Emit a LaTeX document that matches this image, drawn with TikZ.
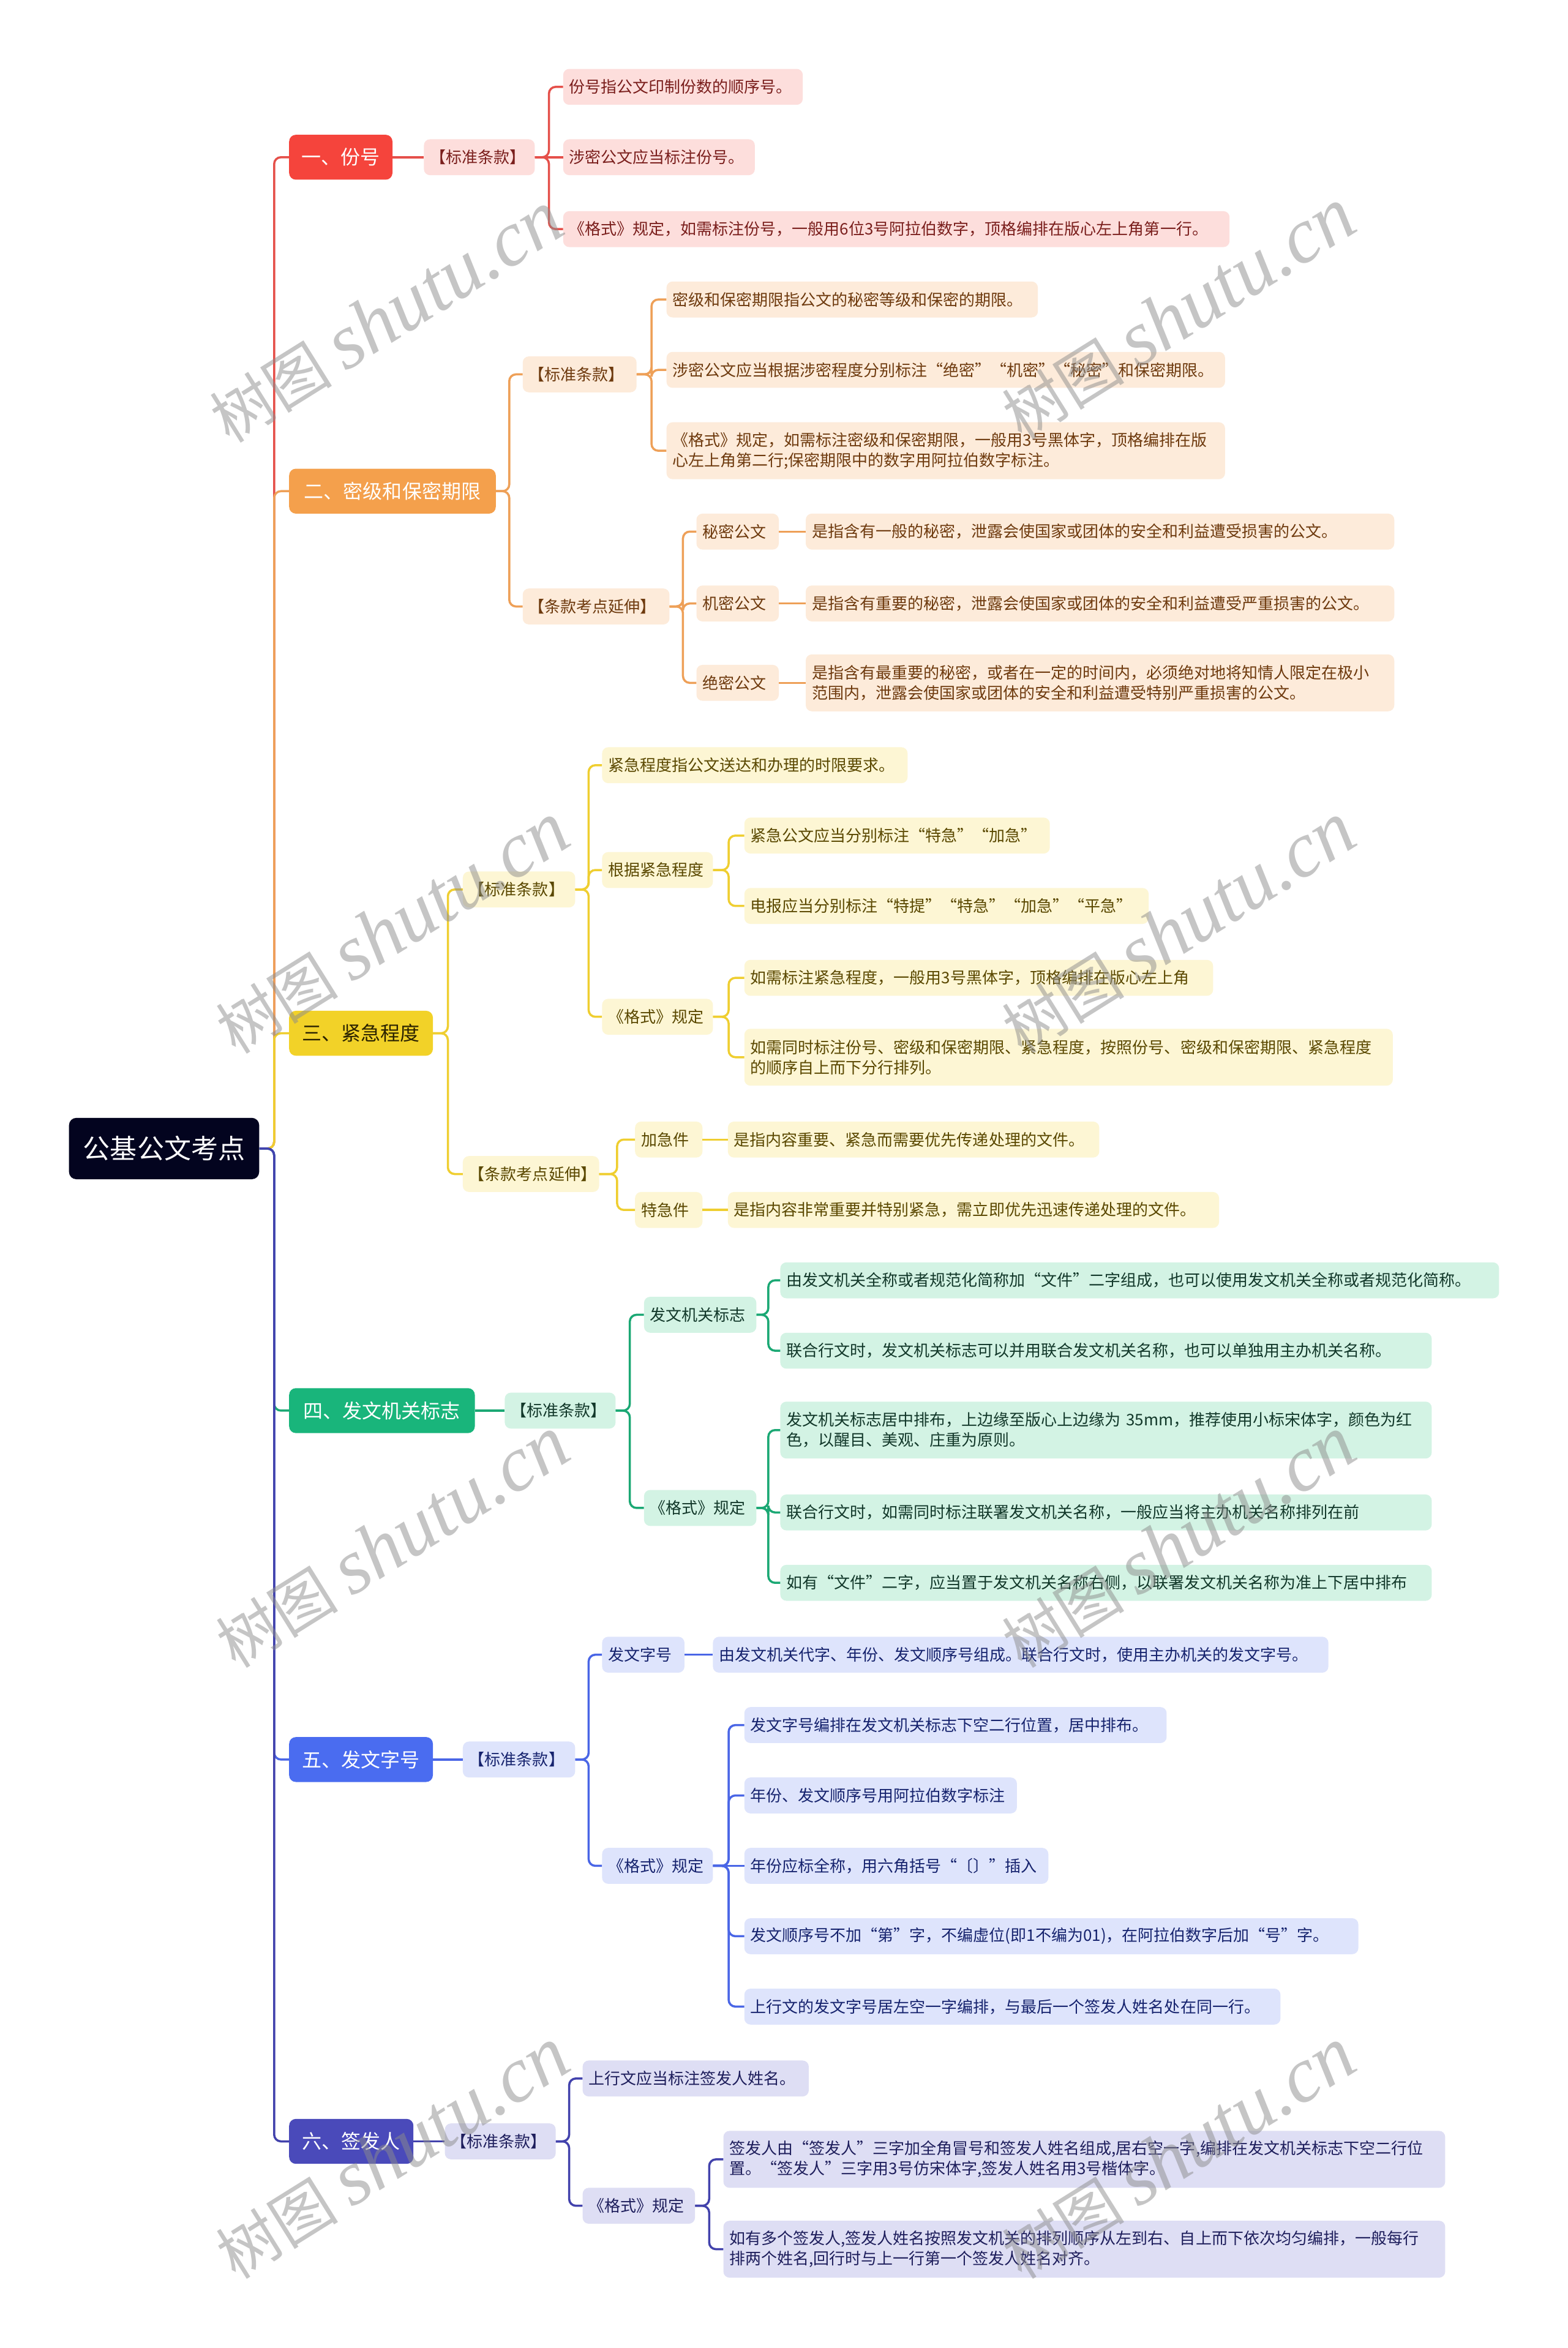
\documentclass[tikz,border=0pt]{standalone}
\usepackage{fontspec}
\setmainfont{Noto Sans CJK SC}
\newfontfamily\wmlatin{Liberation Serif}
\usetikzlibrary{calc}
\definecolor{rootc}{HTML}{03041F}
\definecolor{AM}{HTML}{F5443C}\definecolor{AL}{HTML}{FDDEDC}\definecolor{AT}{HTML}{7A1E1C}\definecolor{AK}{HTML}{E5504A}\definecolor{AW}{HTML}{FFFFFF}
\definecolor{BM}{HTML}{F4A04C}\definecolor{BL}{HTML}{FDEBDA}\definecolor{BT}{HTML}{6E3A0E}\definecolor{BK}{HTML}{EEA058}\definecolor{BW}{HTML}{FFFFFF}
\definecolor{CM}{HTML}{F2D228}\definecolor{CL}{HTML}{FDF6D4}\definecolor{CT}{HTML}{5A4800}\definecolor{CK}{HTML}{EFCE30}\definecolor{CW}{HTML}{2A2200}
\definecolor{DM}{HTML}{19B57B}\definecolor{DL}{HTML}{D3F3E4}\definecolor{DT}{HTML}{12382A}\definecolor{DK}{HTML}{1BA874}\definecolor{DW}{HTML}{FFFFFF}
\definecolor{EM}{HTML}{4A6CF0}\definecolor{EL}{HTML}{DEE4FC}\definecolor{ET}{HTML}{16236E}\definecolor{EK}{HTML}{4A66E6}\definecolor{EW}{HTML}{FFFFFF}
\definecolor{FM}{HTML}{4A4ABA}\definecolor{FL}{HTML}{DEDEF4}\definecolor{FT}{HTML}{1E1E5C}\definecolor{FK}{HTML}{4242AC}\definecolor{FW}{HTML}{FFFFFF}
\newcommand\nd[7]{%
 \pgfmathsetmacro\mywd{(#4-#3)*2.445-20}%
 \pgfmathsetmacro\myht{#6*2.445}%
 \node[anchor=west, inner xsep=10pt, inner ysep=1pt, text width=\mywd pt, minimum height=\myht pt, align=left, #1] (#2) at (#3,#5) {#7};}
\newcommand\cc[3]{\draw[ln=#1] (#2.east) -- ($(#2.east)!.5!(#2.east -| #3.west)$) |- (#3.west);}
\newcommand\cs[3]{\draw[ln=#1] (#2.east) -- (#2.east -| #3.west);}
\begin{document}
\begin{tikzpicture}[x=2.445pt,y=-2.445pt,
  rootbox/.style={fill=rootc, text=white, rounded corners=12pt, align=center, font=\fontsize{44}{52}\selectfont},
  mainbox/.style={fill=#1M, text=#1W, rounded corners=11pt, align=center, font=\fontsize{32}{38}\selectfont},
  leafbox/.style={fill=#1L, text=#1T, rounded corners=10pt, font=\fontsize{26}{33}\selectfont},
  ln/.style={draw=#1K, line width=3.5pt, rounded corners=11pt},
  wm/.style={text=black!45, opacity=0.5, rotate=32, inner sep=0pt}]
\fill[white] (0,0) rectangle (1047,1568);
\useasboundingbox (0,0) rectangle (1047,1568);

\nd{rootbox}{r}{46}{173}{767}{41}{公基公文考点}

% 一
\nd{mainbox=A}{a}{193}{262}{105}{30}{一、份号}
\nd{leafbox=A}{a1}{283}{357}{105}{24}{【标准条款】}
\nd{leafbox=A}{a11}{376}{536}{58}{24}{份号指公文印制份数的顺序号。}
\nd{leafbox=A}{a12}{376}{504}{105}{24}{涉密公文应当标注份号。}
\nd{leafbox=A}{a13}{376}{821}{153}{24}{《格式》规定，如需标注份号，一般用6位3号阿拉伯数字，顶格编排在版心左上角第一行。}

% 二
\nd{mainbox=B}{b}{193}{331}{328}{30}{二、密级和保密期限}
\nd{leafbox=B}{b1}{349}{425}{250}{24}{【标准条款】}
\nd{leafbox=B}{b11}{445}{693}{200}{24}{密级和保密期限指公文的秘密等级和保密的期限。}
\nd{leafbox=B}{b12}{445}{818}{247}{24}{涉密公文应当根据涉密程度分别标注“绝密”“机密”“秘密”和保密期限。}
\nd{leafbox=B}{b13}{445}{818}{301}{38}{《格式》规定，如需标注密级和保密期限，一般用3号黑体字，顶格编排在版\\心左上角第二行;保密期限中的数字用阿拉伯数字标注。}
\nd{leafbox=B}{b2}{349}{447}{405}{24}{【条款考点延伸】}
\nd{leafbox=B}{b21}{465}{520}{355}{24}{秘密公文}
\nd{leafbox=B}{b21x}{538}{931}{355}{24}{是指含有一般的秘密，泄露会使国家或团体的安全和利益遭受损害的公文。}
\nd{leafbox=B}{b22}{465}{520}{403}{24}{机密公文}
\nd{leafbox=B}{b22x}{538}{931}{403}{24}{是指含有重要的秘密，泄露会使国家或团体的安全和利益遭受严重损害的公文。}
\nd{leafbox=B}{b23}{465}{520}{456}{24}{绝密公文}
\nd{leafbox=B}{b23x}{538}{931}{456}{38}{是指含有最重要的秘密，或者在一定的时间内，必须绝对地将知情人限定在极小\\范围内，泄露会使国家或团体的安全和利益遭受特别严重损害的公文。}

% 三
\nd{mainbox=C}{c}{193}{289}{690}{30}{三、紧急程度}
\nd{leafbox=C}{c1}{309}{384}{594}{24}{【标准条款】}
\nd{leafbox=C}{c11}{402}{606}{511}{24}{紧急程度指公文送达和办理的时限要求。}
\nd{leafbox=C}{c12}{402}{476}{581}{24}{根据紧急程度}
\nd{leafbox=C}{c121}{497}{701}{558}{24}{紧急公文应当分别标注“特急”“加急”}
\nd{leafbox=C}{c122}{497}{767}{605}{24}{电报应当分别标注“特提”“特急”“加急”“平急”}
\nd{leafbox=C}{c13}{402}{476}{679}{24}{《格式》规定}
\nd{leafbox=C}{c131}{497}{810}{653}{24}{如需标注紧急程度，一般用3号黑体字，顶格编排在版心左上角}
\nd{leafbox=C}{c132}{497}{930}{706}{38}{如需同时标注份号、密级和保密期限、紧急程度，按照份号、密级和保密期限、紧急程度\\的顺序自上而下分行排列。}
\nd{leafbox=C}{c2}{309}{400}{784}{24}{【条款考点延伸】}
\nd{leafbox=C}{c21}{424}{469}{761}{24}{加急件}
\nd{leafbox=C}{c21x}{486}{734}{761}{24}{是指内容重要、紧急而需要优先传递处理的文件。}
\nd{leafbox=C}{c22}{424}{469}{808}{24}{特急件}
\nd{leafbox=C}{c22x}{486}{814}{808}{24}{是指内容非常重要并特别紧急，需立即优先迅速传递处理的文件。}

% 四
\nd{mainbox=D}{d}{193}{317}{942}{30}{四、发文机关标志}
\nd{leafbox=D}{d1}{337}{411}{942}{24}{【标准条款】}
\nd{leafbox=D}{d11}{430}{505}{878}{24}{发文机关标志}
\nd{leafbox=D}{d111}{521}{1001}{855}{24}{由发文机关全称或者规范化简称加“文件”二字组成，也可以使用发文机关全称或者规范化简称。}
\nd{leafbox=D}{d112}{521}{956}{902}{24}{联合行文时，发文机关标志可以并用联合发文机关名称，也可以单独用主办机关名称。}
\nd{leafbox=D}{d12}{430}{505}{1007}{24}{《格式》规定}
\nd{leafbox=D}{d121}{521}{956}{955}{38}{发文机关标志居中排布，上边缘至版心上边缘为~35mm，推荐使用小标宋体字，颜色为红\\色，以醒目、美观、庄重为原则。}
\nd{leafbox=D}{d122}{521}{956}{1010}{24}{联合行文时，如需同时标注联署发文机关名称，一般应当将主办机关名称排列在前}
\nd{leafbox=D}{d123}{521}{956}{1057}{24}{如有“文件”二字，应当置于发文机关名称右侧，以联署发文机关名称为准上下居中排布}

% 五
\nd{mainbox=E}{e}{193}{289}{1175}{30}{五、发文字号}
\nd{leafbox=E}{e1}{309}{384}{1175}{24}{【标准条款】}
\nd{leafbox=E}{e11}{402}{457}{1105}{24}{发文字号}
\nd{leafbox=E}{e11x}{476}{887}{1105}{24}{由发文机关代字、年份、发文顺序号组成。联合行文时，使用主办机关的发文字号。}
\nd{leafbox=E}{e12}{402}{476}{1246}{24}{《格式》规定}
\nd{leafbox=E}{e121}{497}{779}{1152}{24}{发文字号编排在发文机关标志下空二行位置，居中排布。}
\nd{leafbox=E}{e122}{497}{679}{1199}{24}{年份、发文顺序号用阿拉伯数字标注}
\nd{leafbox=E}{e123}{497}{700}{1246}{24}{年份应标全称，用六角括号“〔〕”插入}
\nd{leafbox=E}{e124}{497}{907}{1293}{24}{发文顺序号不加“第”字，不编虚位(即1不编为01)，在阿拉伯数字后加“号”字。}
\nd{leafbox=E}{e125}{497}{855}{1340}{24}{上行文的发文字号居左空一字编排，与最后一个签发人姓名处在同一行。}

% 六
\nd{mainbox=F}{f}{193}{276}{1430}{30}{六、签发人}
\nd{leafbox=F}{f1}{297}{371}{1430}{24}{【标准条款】}
\nd{leafbox=F}{f11}{389}{540}{1388}{24}{上行文应当标注签发人姓名。}
\nd{leafbox=F}{f12}{389}{464}{1473}{24}{《格式》规定}
\nd{leafbox=F}{f121}{483}{965}{1442}{38}{签发人由“签发人”三字加全角冒号和签发人姓名组成,居右空一字,编排在发文机关标志下空二行位\\置。“签发人”三字用3号仿宋体字,签发人姓名用3号楷体字。}
\nd{leafbox=F}{f122}{483}{965}{1502}{38}{如有多个签发人,签发人姓名按照发文机关的排列顺序从左到右、自上而下依次均匀编排，一般每行\\排两个姓名,回行时与上一行第一个签发人姓名对齐。}

% connectors
\cc{A}{r}{a}\cc{B}{r}{b}\cc{C}{r}{c}
\cc{D}{r}{d}\cc{E}{r}{e}\cc{F}{r}{f}

\cs{A}{a}{a1}
\cc{A}{a1}{a11}\cs{A}{a1}{a12}\cc{A}{a1}{a13}

\cc{B}{b}{b1}\cc{B}{b}{b2}
\cc{B}{b1}{b11}\cc{B}{b1}{b12}\cc{B}{b1}{b13}
\cc{B}{b2}{b21}\cc{B}{b2}{b22}\cc{B}{b2}{b23}
\cs{B}{b21}{b21x}\cs{B}{b22}{b22x}\cs{B}{b23}{b23x}

\cc{C}{c}{c1}\cc{C}{c}{c2}
\cc{C}{c1}{c11}\cc{C}{c1}{c12}\cc{C}{c1}{c13}
\cc{C}{c12}{c121}\cc{C}{c12}{c122}
\cc{C}{c13}{c131}\cc{C}{c13}{c132}
\cc{C}{c2}{c21}\cc{C}{c2}{c22}
\cs{C}{c21}{c21x}\cs{C}{c22}{c22x}

\cs{D}{d}{d1}
\cc{D}{d1}{d11}\cc{D}{d1}{d12}
\cc{D}{d11}{d111}\cc{D}{d11}{d112}
\cc{D}{d12}{d121}\cc{D}{d12}{d122}\cc{D}{d12}{d123}

\cs{E}{e}{e1}
\cc{E}{e1}{e11}\cc{E}{e1}{e12}
\cs{E}{e11}{e11x}
\cc{E}{e12}{e121}\cc{E}{e12}{e122}\cs{E}{e12}{e123}\cc{E}{e12}{e124}\cc{E}{e12}{e125}

\cs{F}{f}{f1}
\cc{F}{f1}{f11}\cc{F}{f1}{f12}
\cc{F}{f12}{f121}\cc{F}{f12}{f122}

% watermarks
\node[wm] (w1) at (258,212) {\fontsize{100}{100}\selectfont 树图 {\wmlatin\itshape\fontsize{128}{128}\selectfont shutu.cn}};
\node[wm] (w2) at (787,210) {\fontsize{100}{100}\selectfont 树图 {\wmlatin\itshape\fontsize{128}{128}\selectfont shutu.cn}};
\node[wm] (w3) at (262,620) {\fontsize{100}{100}\selectfont 树图 {\wmlatin\itshape\fontsize{128}{128}\selectfont shutu.cn}};
\node[wm] (w4) at (787,620) {\fontsize{100}{100}\selectfont 树图 {\wmlatin\itshape\fontsize{128}{128}\selectfont shutu.cn}};
\node[wm] (w5) at (262,1030) {\fontsize{100}{100}\selectfont 树图 {\wmlatin\itshape\fontsize{128}{128}\selectfont shutu.cn}};
\node[wm] (w6) at (787,1030) {\fontsize{100}{100}\selectfont 树图 {\wmlatin\itshape\fontsize{128}{128}\selectfont shutu.cn}};
\node[wm] (w7) at (262,1438) {\fontsize{100}{100}\selectfont 树图 {\wmlatin\itshape\fontsize{128}{128}\selectfont shutu.cn}};
\node[wm] (w8) at (787,1438) {\fontsize{100}{100}\selectfont 树图 {\wmlatin\itshape\fontsize{128}{128}\selectfont shutu.cn}};
\end{tikzpicture}
\end{document}
